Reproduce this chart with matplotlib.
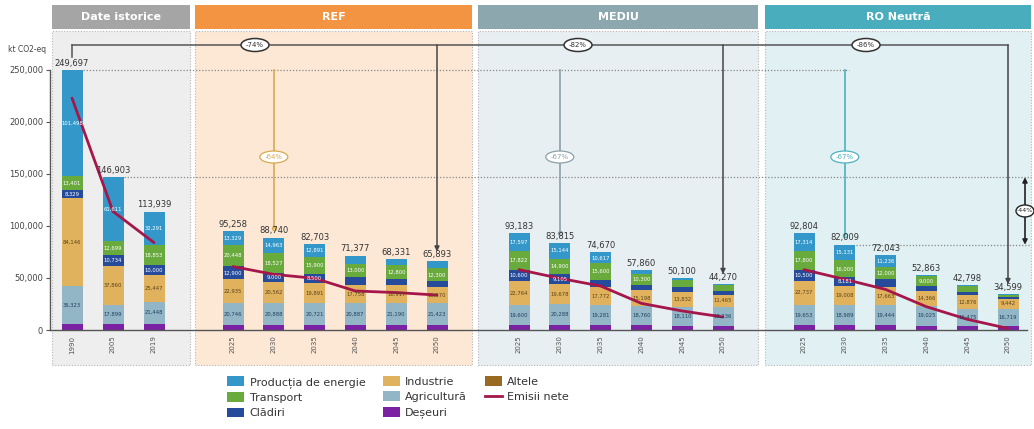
import matplotlib
matplotlib.use("Agg")
import matplotlib.pyplot as plt
from matplotlib.patches import Rectangle, Ellipse, Patch
from matplotlib.lines import Line2D
import numpy as np

plt.rcParams['font.family'] = ['DejaVu Sans']

# ---------------- data ----------------
groups = ["Date istorice", "REF", "MEDIU", "RO Neutră"]
years_hist = ["1990", "2005", "2019"]
years_proj = ["2025", "2030", "2035", "2040", "2045", "2050"]

sectors = ["Deșeuri", "Agricultură", "Industrie", "Clădiri", "Transport",
           "Producția de energie", "Altele"]

# historical (1990, 2005, 2019)
hist_deseuri = [6000, 6100, 5900]
hist_agri = [36323, 17899, 21448]
hist_ind = [84146, 37860, 25447]
hist_clad = [8329, 10734, 10000]
hist_transp = [13401, 12699, 18853]
hist_energ = [101498, 61611, 32291]
hist_altele = [0, 0, 0]
hist_total = [249697, 146903, 113939]
hist_net = [223000, 114000, 84000]

# REF
ref_deseuri = [4900, 4800, 4800, 4700, 4700, 4600]
ref_agri = [20746, 20888, 20721, 20887, 21190, 21423]
ref_ind = [22935, 20562, 19891, 17758, 16917, 15570]
ref_clad = [12900, 9000, 8500, 7500, 6500, 5300]
ref_transp = [20448, 18527, 15900, 13000, 12800, 12300]
ref_energ = [13329, 14963, 12891, 7532, 6224, 6700]
ref_altele = [0, 0, 0, 0, 0, 0]
ref_total = [95258, 88740, 82703, 71377, 68331, 65893]
ref_net = [61000, 53500, 49700, 37500, 36000, 33600]

# MEDIU
med_deseuri = [4800, 4700, 4600, 4400, 4300, 4200]
med_agri = [19600, 20288, 19281, 18760, 18110, 18236]
med_ind = [22764, 19678, 17772, 15198, 13832, 11465]
med_clad = [10600, 9105, 6800, 5200, 4800, 3200]
med_transp = [17822, 14900, 15600, 10300, 7000, 6200]
med_energ = [17597, 15144, 10617, 4002, 2058, 969]
med_altele = [0, 0, 0, 0, 0, 0]
med_total = [93183, 83815, 74670, 57860, 50100, 44270]
med_net = [58000, 49700, 42300, 25600, 18300, 12500]

# RO Neutra
ro_deseuri = [4800, 4700, 4500, 4300, 4100, 3900]
ro_agri = [19653, 18989, 19444, 19025, 16475, 16719]
ro_ind = [22737, 19008, 17663, 14366, 12876, 9442]
ro_clad = [10500, 8181, 7200, 4800, 3500, 1500]
ro_transp = [17800, 16000, 12000, 9000, 5000, 2500]
ro_energ = [17314, 15131, 11236, 1372, 847, 538]
ro_altele = [0, 0, 0, 0, 0, 0]
ro_total = [92804, 82009, 72043, 52863, 42798, 34599]
ro_net = [58000, 48700, 39000, 22400, 10300, 1500]

pct_2050 = ["-74%", "-82%", "-86%"]
pct_2030 = ["-64%", "-67%", "-67%"]
pct_right = "-44%"
yticks = [0, 50000, 100000, 150000, 200000, 250000]

# ---------------- style ----------------
colors = {
    "Producția de energie": "#3398c9",
    "Transport": "#69aa3c",
    "Clădiri": "#254b9a",
    "Industrie": "#e0b25e",
    "Agricultură": "#92b6c6",
    "Deșeuri": "#7a22a3",
    "Altele": "#9a6a22",
}
net_color = "#a5164a"
label_col = {
    "Producția de energie": "white", "Transport": "white", "Clădiri": "white",
    "Industrie": "#5b4318", "Agricultură": "#23405e", "Deșeuri": "white",
    "Altele": "white",
}
panel_bg = ["#eeeeee", "#fde8d6", "#e7eff2", "#e1f0f2"]
header_col = ["#a5a5a5", "#f29441", "#8ca7ae", "#49adbe"]
panel_x = [(52, 190), (195, 472), (478, 758), (765, 1031)]
group_start = [72, 233, 519, 804]
group_step = [41, 40.8, 40.8, 40.8]
bar_w = 21
vline_col = ["#d8a94f", "#8d9fa6", "#4db2c0"]

data = [
    dict(years=years_hist, seg=[hist_deseuri, hist_agri, hist_ind, hist_clad, hist_transp, hist_energ, hist_altele],
         total=hist_total, net=hist_net),
    dict(years=years_proj, seg=[ref_deseuri, ref_agri, ref_ind, ref_clad, ref_transp, ref_energ, ref_altele],
         total=ref_total, net=ref_net),
    dict(years=years_proj, seg=[med_deseuri, med_agri, med_ind, med_clad, med_transp, med_energ, med_altele],
         total=med_total, net=med_net),
    dict(years=years_proj, seg=[ro_deseuri, ro_agri, ro_ind, ro_clad, ro_transp, ro_energ, ro_altele],
         total=ro_total, net=ro_net),
]

W, H = 1034, 429
Y0 = 330.0
PXK = 1.04


def py(p):
    return (Y0 - p) / PXK * 1000.0


fig = plt.figure(figsize=(W / 100, H / 100), dpi=100)
ax = fig.add_axes([0, 0, 1, 1])
ax.set_xlim(0, W)
ax.set_ylim(py(H), py(0))

# panels and headers
for i in range(4):
    x0, x1 = panel_x[i]
    ax.add_patch(Rectangle((x0, py(365)), x1 - x0, py(31) - py(365), facecolor=panel_bg[i],
                           edgecolor="#b5b5b5", ls=(0, (1, 1.5)), lw=0.8, zorder=0.3))
    ax.add_patch(Rectangle((x0, py(29)), x1 - x0, py(5) - py(29), facecolor=header_col[i],
                           edgecolor="none", zorder=0.4))
    ax.text((x0 + x1) / 2, py(17), groups[i], ha="center", va="center", color="white",
            fontsize=8, fontweight="bold", zorder=5)

# bars
all_pos, all_lab = [], []
positions = []
for g, d in enumerate(data):
    pos = [group_start[g] + k * group_step[g] for k in range(len(d["years"]))]
    positions.append(pos)
    all_pos += pos
    all_lab += d["years"]
    bottom = np.zeros(len(pos))
    for s, name in enumerate(sectors):
        vals = np.array(d["seg"][s], dtype=float)
        ax.bar(pos, vals, bottom=bottom, width=bar_w, color=colors[name], edgecolor="none", zorder=2)
        for k, v in enumerate(vals):
            if v >= 8000 and name != "Deșeuri":
                ax.text(pos[k], bottom[k] + v / 2, f"{int(v):,}", ha="center", va="center",
                        fontsize=3.8, color=label_col[name], zorder=4)
        bottom += vals
    for k, t in enumerate(d["total"]):
        ax.text(pos[k], t + 2200, f"{t:,}", ha="center", va="bottom", fontsize=6,
                color="#333333", zorder=4)
    ax.plot(pos, d["net"], color=net_color, lw=2, zorder=3, solid_capstyle="round")

# axes styling
for sp in ["top", "right"]:
    ax.spines[sp].set_visible(False)
ax.spines["left"].set_position(("data", 50))
ax.spines["left"].set_bounds(0, 250000)
ax.spines["bottom"].set_position(("data", 0))
ax.spines["bottom"].set_bounds(50, 1027)
for sp in ["left", "bottom"]:
    ax.spines[sp].set_color("#555555")
    ax.spines[sp].set_linewidth(1.0)
ax.set_yticks(yticks)
ax.set_yticklabels([f"{v:,}" for v in yticks], fontsize=6, color="#444444")
ax.tick_params(axis="y", length=3, width=0.8, color="#555555", pad=2)
ax.set_xticks(all_pos)
ax.set_xticklabels(all_lab, rotation=90, fontsize=5, color="#555555")
ax.tick_params(axis="x", length=0, pad=4)
ax.text(8, py(50), "kt CO2-eq", fontsize=5.5, color="#444444", va="center", ha="left")

# reference levels
ax.plot([positions[0][0] + 11, positions[3][1] + 4], [hist_total[0]] * 2, ls=(0, (1, 1.5)),
        color="#888888", lw=0.9, zorder=1)
ax.plot([positions[0][1] + 11, 1031], [hist_total[1]] * 2, ls=(0, (1, 1.5)),
        color="#888888", lw=0.9, zorder=1)
ax.plot([positions[3][1] + 11, 1031], [ro_total[1]] * 2, ls=(0, (1, 1.5)),
        color="#888888", lw=0.9, zorder=1)

# top bracket: 1990 -> 2050
ytop = py(45)
ax.plot([positions[0][0], positions[0][0]], [hist_total[0] + 13000, ytop], color="#555555", lw=1.1, zorder=3)
ax.plot([positions[0][0], positions[3][5]], [ytop, ytop], color="#555555", lw=1.1, zorder=3)
ell_x = [255, 578, 866]
for j, g in enumerate([1, 2, 3]):
    d = data[g]
    x = positions[g][5]
    ax.annotate("", xy=(x, d["total"][5] + 9500), xytext=(x, ytop),
                arrowprops=dict(arrowstyle="-|>", color="#444444", lw=1.1, mutation_scale=7,
                                shrinkA=0, shrinkB=0), zorder=3)
    ax.add_patch(Ellipse((ell_x[j], ytop), 28, py(38) - py(51), facecolor="white",
                         edgecolor="#333333", lw=1.1, zorder=4))
    ax.text(ell_x[j], ytop, pct_2050[j], ha="center", va="center", fontsize=5, color="#333333", zorder=5)

    # 2030 lines
    x30 = positions[g][1]
    yend = d["total"][1] + 9500
    ax.plot([x30, x30], [hist_total[0], yend], color=vline_col[j], lw=1.2, zorder=3)
    ax.plot([x30], [yend], marker="o", ms=3, mfc="none", mec=vline_col[j], mew=0.9, zorder=3)
    ye = py(157)
    ax.add_patch(Ellipse((x30, ye), 28, py(151) - py(163), facecolor="white",
                         edgecolor=vline_col[j], lw=0.9, zorder=4))
    ax.text(x30, ye, pct_2030[j], ha="center", va="center", fontsize=5, color=vline_col[j], zorder=5)

# right double arrow 2005 -> RO 2030
xr = 1025
ax.annotate("", xy=(xr, ro_total[1]), xytext=(xr, hist_total[1]),
            arrowprops=dict(arrowstyle="<|-|>", color="#222222", lw=1.2, mutation_scale=7,
                            shrinkA=0, shrinkB=0), zorder=3)
ym = (ro_total[1] + hist_total[1]) / 2
ax.add_patch(Ellipse((xr, ym), 18, py(203) - py(215), facecolor="white",
                     edgecolor="#222222", lw=1.0, zorder=4))
ax.text(xr, ym, pct_right, ha="center", va="center", fontsize=4.5, color="#222222", zorder=5)

# legend
order = ["Producția de energie", "Transport", "Clădiri", "Industrie", "Agricultură", "Deșeuri", "Altele"]
handles = [Patch(facecolor=colors[n], edgecolor="none") for n in order]
handles.append(Line2D([0], [0], color=net_color, lw=2))
labels = order + ["Emisii nete"]
fig.legend(handles, labels, ncol=3, loc="center", bbox_to_anchor=(0.385, 0.074), frameon=False,
           fontsize=8, handlelength=1.5, handleheight=1.0, handletextpad=0.5,
           columnspacing=1.6, labelspacing=0.4, labelcolor="#333333")

fig.savefig("out.png", dpi=100)
